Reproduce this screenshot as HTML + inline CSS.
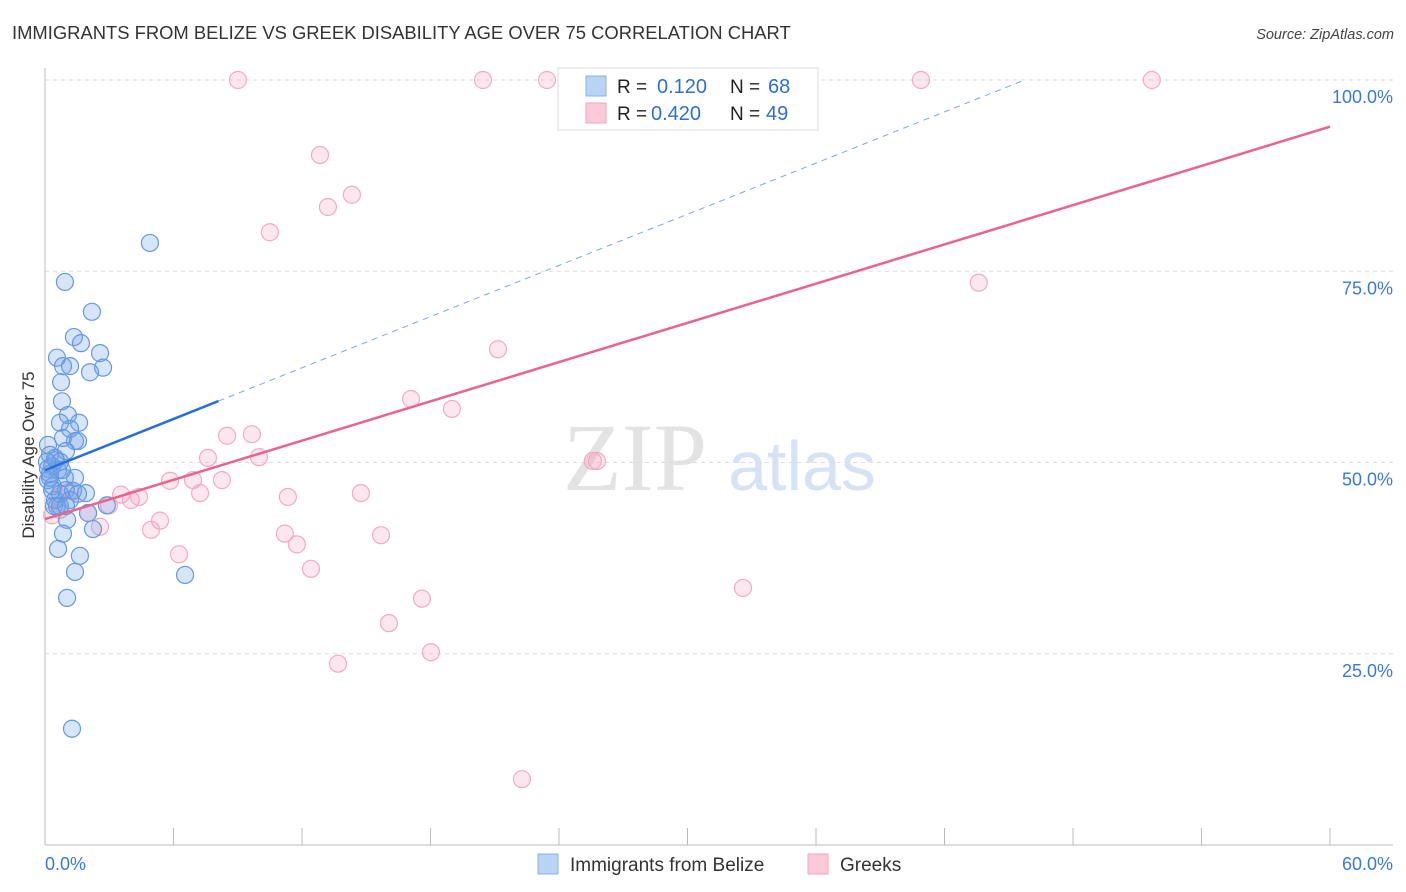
<!DOCTYPE html>
<html><head><meta charset="utf-8"><style>
body{margin:0;background:#fff;font-family:"Liberation Sans",sans-serif;}
svg{display:block}
</style></head><body>
<svg id="chart" width="1406" height="892" xmlns="http://www.w3.org/2000/svg">
<text x="12" y="39" font-size="18.4" fill="#333">IMMIGRANTS FROM BELIZE VS GREEK DISABILITY AGE OVER 75 CORRELATION CHART</text>
<text x="1394" y="39" font-size="14.5" fill="#444" font-style="italic" text-anchor="end">Source: ZipAtlas.com</text>
<text x="635" y="490" font-size="96" font-family="Liberation Serif,serif" fill="#e3e3e3" text-anchor="middle">ZIP</text>
<text x="802" y="490" font-size="70" fill="#d6e3f5" text-anchor="middle">atlas</text>
<g id="grid"></g>
<g id="axes"></g>
<g id="marks"></g>
<text transform="translate(34,455) rotate(-90)" font-size="17" fill="#333" text-anchor="middle">Disability Age Over 75</text>
<g>
<rect x="558" y="68" width="260" height="62" fill="#fff" stroke="#ddd"/>
<rect x="586" y="76" width="20" height="20" fill="#b9d3f5" stroke="#8ab0e6"/>
<rect x="586" y="103" width="20" height="20" fill="#fcc9d8" stroke="#f0a6bd"/>
<text x="617" y="93" font-size="19" fill="#222">R = </text><text x="657" y="93" font-size="20" fill="#2d6fd4">0.120</text>
<text x="730" y="93" font-size="19" fill="#222">N = </text><text x="768" y="93" font-size="20" fill="#2d6fd4">68</text>
<text x="617" y="120" font-size="19" fill="#222">R = </text><text x="651" y="120" font-size="20" fill="#2d6fd4">0.420</text>
<text x="730" y="120" font-size="19" fill="#222">N = </text><text x="766" y="120" font-size="20" fill="#2d6fd4">49</text>
</g>
<g>
<rect x="538" y="854" width="20" height="20" fill="#b9d3f5" stroke="#8ab0e6"/>
<text x="570" y="871" font-size="19" fill="#333">Immigrants from Belize</text>
<rect x="808" y="854" width="20" height="20" fill="#fcc9d8" stroke="#f0a6bd"/>
<text x="840" y="871" font-size="19" fill="#333">Greeks</text>
</g>
</svg>
<script>
const blueX=[4.90,0.93,2.19,1.35,1.68,2.57,0.56,0.84,1.17,2.71,2.10,0.75,0.79,1.07,0.70,1.59,1.17,0.84,1.40,1.54,0.14,0.98,0.23,0.47,0.70,0.33,0.14,0.61,0.23,1.40,0.93,0.14,0.37,0.98,1.31,1.91,0.70,1.54,0.47,1.17,0.42,0.70,0.98,2.89,2.01,1.03,2.24,0.84,0.61,1.63,1.40,6.54,1.03,1.26,0.23,0.51,0.09,0.79,0.56,0.33];
const blueY=[78.7,73.6,69.7,66.4,65.6,64.3,63.7,62.6,62.6,62.4,61.8,60.5,58.0,56.2,55.2,55.2,54.4,53.2,52.8,52.8,52.3,51.5,51.0,50.6,50.1,49.5,49.2,49.0,48.5,48.0,48.0,47.7,46.9,46.4,46.3,46.0,45.9,45.9,45.1,45.1,44.3,44.3,44.3,44.4,43.4,42.5,41.3,40.7,38.7,37.8,35.7,35.3,32.3,15.2,48.0,50.3,50.1,49.0,44.3,46.4];
const pinkX=[9.01,20.45,23.44,24.60,40.90,51.68,12.84,14.33,13.21,10.50,43.60,21.15,17.09,19.00,8.50,9.66,7.61,9.99,25.58,25.77,5.84,8.26,6.91,7.24,14.75,11.34,3.55,4.39,4.01,2.99,0.61,1.17,2.01,5.37,4.95,2.57,11.20,11.76,15.69,6.26,12.42,17.60,32.59,16.06,18.02,13.68,22.27,0.70,0.33];
const pinkY=[100,100,100,100,100,100,90.2,85.0,83.4,80.1,73.5,64.8,58.3,57.0,53.5,53.7,50.6,50.7,50.2,50.2,47.6,47.7,47.7,46.0,46.0,45.5,45.8,45.5,45.1,44.4,45.5,46.3,43.4,42.4,41.2,41.6,40.7,39.3,40.5,38.0,36.1,32.2,33.6,29.0,25.2,23.7,8.6,43.8,43.1];
const blueTrend=[49.0,115.9];
const pinkTrend=[42.6,93.9];
const blueSolidEnd=8.1;
const yTicks=[25,50,75,100];
const yTickLabels=["25.0%","50.0%","75.0%","100.0%"];
const xTicks=[0,6,12,18,24,30,36,42,48,54,60];

const NS="http://www.w3.org/2000/svg";
const sx=v=>45+v/60*1285;
const sy=v=>845-v*7.65;
function mk(tag,attrs,parent){const e=document.createElementNS(NS,tag);for(const k in attrs)e.setAttribute(k,attrs[k]);parent.appendChild(e);return e;}
const grid=document.getElementById('grid'),axes=document.getElementById('axes'),marks=document.getElementById('marks');
yTicks.forEach((t,i)=>{
 const l=mk('line',{x1:45,x2:1393,y1:sy(t),y2:sy(t),stroke:'#ddd','stroke-dasharray':'4,4'},grid);
 
 
 const tx=mk('text',{x:1393,y:sy(t)+23,'font-size':18,fill:'#3b78d8','text-anchor':'end'},axes);
 tx.textContent=yTickLabels[i];
 
 
});
let a=mk('line',{x1:45,x2:45,y1:68,y2:845,stroke:'#bbb'},axes);


a=mk('line',{x1:45,x2:1393,y1:845,y2:845,stroke:'#bbb'},axes);


xTicks.forEach(t=>{
 const l=mk('line',{x1:sx(t),x2:sx(t),y1:828,y2:845,stroke:'#bbb'},axes);
 
 
});
let t0=mk('text',{x:45,y:870,'font-size':18,fill:'#3b78d8'},axes);t0.textContent=xTicks[0].toFixed(1)+'%';


let t1=mk('text',{x:1393,y:870,'font-size':18,fill:'#3b78d8','text-anchor':'end'},axes);t1.textContent=xTicks[xTicks.length-1].toFixed(1)+'%';



pinkX.forEach((x,i)=>{
 const c=mk('circle',{cx:sx(x),cy:sy(pinkY[i]),r:8.5,fill:'rgba(246,160,190,0.25)',stroke:'#f2abc1','stroke-width':1.2},marks);
 
 
});
blueX.forEach((x,i)=>{
 const c=mk('circle',{cx:sx(x),cy:sy(blueY[i]),r:8.5,fill:'rgba(110,160,235,0.28)',stroke:'#6698e2','stroke-width':1.2},marks);
 
 
});
const bAt=x=>blueTrend[0]+(blueTrend[1]-blueTrend[0])*x/60;
const pAt=x=>pinkTrend[0]+(pinkTrend[1]-pinkTrend[0])*x/60;
let xEnd=(100-blueTrend[0])/(blueTrend[1]-blueTrend[0])*60;
let l=mk('line',{x1:sx(blueSolidEnd),y1:sy(bAt(blueSolidEnd)),x2:sx(xEnd),y2:sy(100),stroke:'#7aa6e6','stroke-width':1,'stroke-dasharray':'6,5'},marks);


l=mk('line',{x1:sx(0),y1:sy(bAt(0)),x2:sx(blueSolidEnd),y2:sy(bAt(blueSolidEnd)),stroke:'#2a6fd6','stroke-width':2.5},marks);


l=mk('line',{x1:sx(0),y1:sy(pAt(0)),x2:sx(60),y2:sy(pAt(60)),stroke:'#e8648c','stroke-width':2.5},marks);


</script>
</body></html>
